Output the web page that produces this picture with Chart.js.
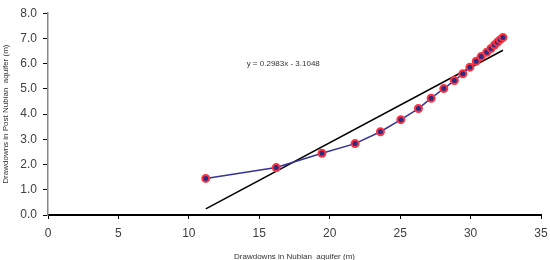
<!DOCTYPE html>
<html>
<head>
<meta charset="utf-8">
<script src="https://cdn.jsdelivr.net/npm/chart.js@4"></script>
<style>
  html, body { margin: 0; padding: 0; background: #fff; }
  #wrap { width: 550px; height: 260px; }
</style>
</head>
<body>
<div id="wrap"><canvas id="chart" width="550" height="260"></canvas></div>
<script>
// 观测点：Nubian 降深 (x) 与 Post Nubian 降深 (y)
const nubianDrawdown = [11.2, 16.2, 19.45, 21.8, 23.6, 25.05, 26.3, 27.2, 28.1, 28.85, 29.45, 29.95, 30.4, 30.75, 31.15, 31.45, 31.7, 31.9, 32.1, 32.3];
const postNubianDrawdown = [1.45, 1.88, 2.45, 2.83, 3.3, 3.78, 4.22, 4.63, 5.01, 5.33, 5.6, 5.86, 6.1, 6.28, 6.45, 6.6, 6.74, 6.85, 6.95, 7.04];

// 趋势线端点
const trendX = [11.2, 32.3];
const trendY = [0.24, 6.53];
const trendLabel = 'y = 0.2983x - 3.1048';
const trendLabelAt = [16.7, 6.0];

// 坐标轴刻度
const xTicks = [0, 5, 10, 15, 20, 25, 30, 35];
const yTicks = [0, 1, 2, 3, 4, 5, 6, 7, 8];

const toPoints = (xs, ys) => xs.map((x, i) => ({ x: x, y: ys[i] }));

// 在图上写回归方程
const equationText = {
  id: 'equationText',
  afterDatasetsDraw(chart) {
    const { ctx, scales } = chart;
    ctx.save();
    ctx.font = '8px "Liberation Sans", Arial, sans-serif';
    ctx.fillStyle = '#333';
    ctx.textAlign = 'center';
    ctx.textBaseline = 'middle';
    ctx.fillText(trendLabel, scales.x.getPixelForValue(trendLabelAt[0]), scales.y.getPixelForValue(trendLabelAt[1]));
    ctx.restore();
  }
};

const tickFont = { family: '"Liberation Sans", Arial, sans-serif', size: 12 };
const titleFont = { family: '"Liberation Sans", Arial, sans-serif', size: 8 };

new Chart(document.getElementById('chart').getContext('2d'), {
  type: 'scatter',
  data: {
    datasets: [
      {
        label: 'observed',
        data: toPoints(nubianDrawdown, postNubianDrawdown),
        showLine: true,
        borderColor: '#333399',
        borderWidth: 1.5,
        pointRadius: 3.5,
        pointBorderWidth: 2,
        pointBackgroundColor: '#2b2b80',
        pointBorderColor: '#ff3340',
        fill: false
      },
      {
        label: 'trend',
        data: toPoints(trendX, trendY),
        showLine: true,
        borderColor: '#000',
        borderWidth: 1.5,
        pointRadius: 0,
        fill: false
      }
    ]
  },
  options: {
    responsive: false,
    animation: false,
    layout: { padding: { top: 6, right: 9, left: 1, bottom: 0 } },
    plugins: { legend: { display: false }, tooltip: { enabled: false } },
    scales: {
      x: {
        type: 'linear',
        min: 0, max: 35,
        afterBuildTicks: axis => { axis.ticks = xTicks.map(v => ({ value: v })); },
        afterFit: axis => { axis.height = 45; axis.paddingRight = 0; axis.paddingLeft = 0; },
        grid: { drawOnChartArea: false, drawTicks: true, tickLength: 4, tickColor: '#000', tickWidth: 1 },
        border: { display: true, color: '#000', width: 2 },
        ticks: { color: '#404040', font: tickFont, padding: 7, maxRotation: 0 },
        title: { display: true, text: 'Drawdowns in Nubian  aquifer (m)', color: '#333', font: titleFont, padding: { top: 0, bottom: -2 } }
      },
      y: {
        type: 'linear',
        min: 0, max: 8,
        afterBuildTicks: axis => { axis.ticks = yTicks.map(v => ({ value: v })); },
        afterFit: axis => { axis.width = 47; },
        grid: { drawOnChartArea: false, drawTicks: true, tickLength: 5, tickColor: '#000', tickWidth: 1 },
        border: { display: true, color: '#888', width: 1.5 },
        ticks: { color: '#404040', font: tickFont, padding: 6, callback: v => v.toFixed(1) },
        title: { display: true, text: 'Drawdowns in Post Nubian  aquifer (m)', color: '#333', font: titleFont, padding: { top: 0, bottom: 0 } }
      }
    }
  },
  plugins: [equationText]
});
</script>
</body>
</html>
